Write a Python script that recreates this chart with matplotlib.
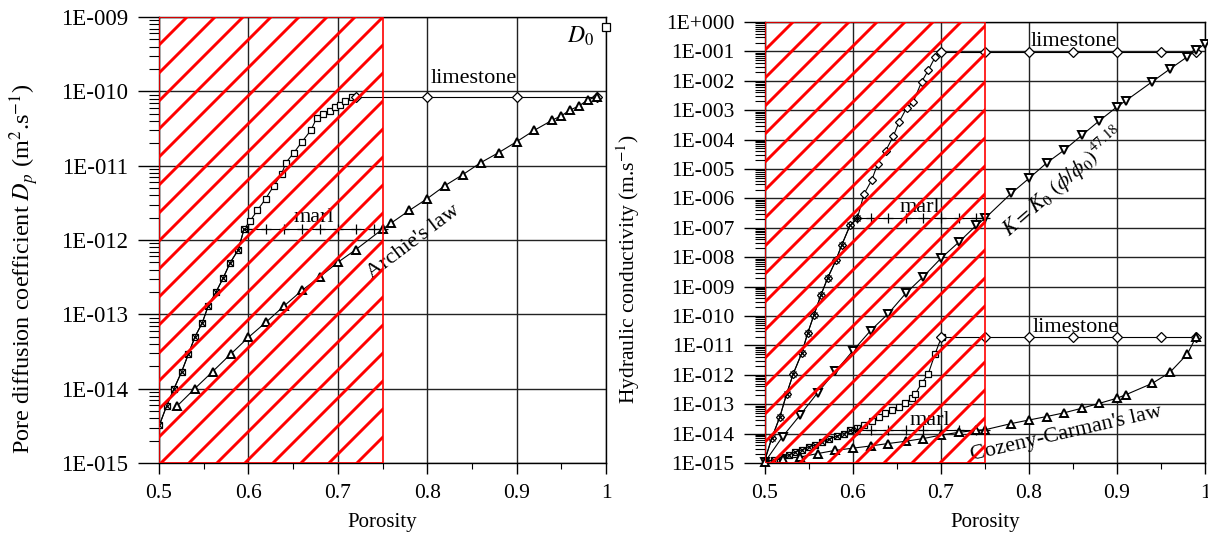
import numpy as np
import matplotlib
matplotlib.use("Agg")
import matplotlib.pyplot as plt
from matplotlib.patches import Rectangle
from matplotlib.lines import Line2D
from matplotlib.ticker import FixedLocator, LogLocator, FuncFormatter, MultipleLocator, NullFormatter

plt.rcParams['font.family'] = ['Liberation Serif', 'DejaVu Serif']
plt.rcParams['mathtext.fontset'] = 'stix'
plt.rcParams['font.size'] = 15

# ---------------- left panel: pore diffusion coefficient ----------------
ls_path_phi = [0.5003, 0.5086, 0.5168, 0.5254, 0.5328, 0.5403, 0.5484, 0.5551, 0.5638, 0.5719,
               0.5794, 0.5887, 0.5951, 0.6018, 0.61, 0.6193, 0.6286, 0.6372, 0.642, 0.651,
               0.66, 0.67, 0.6764, 0.6834, 0.6913, 0.6969, 0.7025, 0.708, 0.7156]
ls_path_dp = [3.2e-15, 5.9e-15, 1.0e-14, 1.7e-14, 2.9e-14, 5.0e-14, 7.7e-14, 1.3e-13, 2.0e-13, 3.1e-13,
              4.9e-13, 7.4e-13, 1.4e-12, 1.8e-12, 2.5e-12, 3.6e-12, 5.4e-12, 7.8e-12, 1.1e-11, 1.5e-11,
              2.1e-11, 3.0e-11, 4.4e-11, 5.0e-11, 5.5e-11, 6.1e-11, 6.6e-11, 7.3e-11, 8.5e-11]
marl_path_phi = [0.5003, 0.5086, 0.5168, 0.5254, 0.5328, 0.5403, 0.5484, 0.5551, 0.5638, 0.5719,
                 0.5794, 0.5887, 0.5951]
marl_path_dp = [3.2e-15, 5.9e-15, 1.0e-14, 1.7e-14, 2.9e-14, 5.0e-14, 7.7e-14, 1.3e-13, 2.0e-13, 3.1e-13,
                4.9e-13, 7.4e-13, 1.4e-12]
marl_phi = [0.60, 0.62, 0.64, 0.66, 0.68, 0.70, 0.72, 0.74, 0.75]
marl_dp = [1.4e-12] * 9
lime_phi = [0.72, 0.80, 0.90, 0.99]
lime_dp = [8.5e-11] * 4
archie_phi = [0.52, 0.54, 0.56, 0.58, 0.60, 0.62, 0.64, 0.66, 0.68, 0.70, 0.72, 0.75, 0.76, 0.78,
              0.80, 0.82, 0.84, 0.86, 0.88, 0.90, 0.92, 0.94, 0.95, 0.96, 0.97, 0.98, 0.99]
archie_dp = [5.8e-15, 1.0e-14, 1.7e-14, 2.9e-14, 4.9e-14, 7.9e-14, 1.3e-13, 2.1e-13, 3.2e-13, 5.0e-13,
             7.4e-13, 1.4e-12, 1.7e-12, 2.5e-12, 3.6e-12, 5.4e-12, 7.6e-12, 1.1e-11, 1.5e-11, 2.1e-11,
             3.0e-11, 4.1e-11, 4.7e-11, 5.6e-11, 6.4e-11, 7.7e-11, 8.5e-11]
d0_phi = 1.0
d0_dp = 7.3e-10

# ---------------- right panel: hydraulic conductivity ----------------
k_ls_phi = [0.5, 0.5076, 0.517, 0.5247, 0.5322, 0.5417, 0.5485, 0.5557, 0.5636, 0.5713, 0.5807, 0.5872,
            0.5966, 0.6049, 0.6125, 0.6213, 0.6281, 0.6372, 0.6458, 0.6526, 0.661, 0.6685, 0.678,
            0.6856, 0.6932, 0.6989]
k_ls_path = [1.3e-15, 6.9e-15, 3.8e-14, 2.3e-13, 1.1e-12, 5.4e-12, 2.6e-11, 1.1e-10, 5.2e-10, 2.0e-9,
             8.0e-9, 2.6e-8, 1.2e-7, 2.1e-7, 1.4e-6, 4.2e-6, 1.5e-5, 4.2e-5, 1.3e-4, 4.1e-4, 1.2e-3,
             1.9e-3, 9.3e-3, 2.3e-2, 6.3e-2, 9.8e-2]
k_marl_path_phi = [0.5, 0.5076, 0.517, 0.5247, 0.5322, 0.5417, 0.5485, 0.5557, 0.5636, 0.5713, 0.5807,
                   0.5872, 0.5966, 0.6049]
k_marl_path = [1.3e-15, 6.9e-15, 3.8e-14, 2.3e-13, 1.1e-12, 5.4e-12, 2.6e-11, 1.1e-10, 5.2e-10, 2.0e-9,
               8.0e-9, 2.6e-8, 1.2e-7, 2.1e-7]
k_marl_phi = [0.6049, 0.62, 0.64, 0.66, 0.68, 0.70, 0.72, 0.74, 0.75]
k_marl = [2.1e-7] * 9
k_lime_phi = [0.70, 0.75, 0.80, 0.85, 0.90, 0.95, 0.99]
k_lime = [9.8e-2] * 7
k_law_phi = [0.50, 0.52, 0.54, 0.56, 0.58, 0.60, 0.62, 0.64, 0.66, 0.68, 0.70, 0.72, 0.74, 0.75, 0.78,
             0.80, 0.82, 0.84, 0.86, 0.88, 0.90, 0.91, 0.94, 0.96, 0.98, 0.99, 1.00]
k_law = [1.1e-15, 7.9e-15, 4.3e-14, 2.5e-13, 1.3e-12, 6.6e-12, 3.2e-11, 1.2e-10, 5.9e-10, 2.2e-9,
         9.2e-9, 3.2e-8, 1.2e-7, 2.1e-7, 1.5e-6, 4.8e-6, 1.6e-5, 4.4e-5, 1.4e-4, 4.4e-4, 1.3e-3,
         2.1e-3, 9.3e-3, 2.5e-2, 6.6e-2, 1.1e-1, 1.8e-1]

cc_ls_phi = [0.5, 0.5106, 0.5193, 0.5269, 0.5345, 0.542, 0.5497, 0.5572, 0.5648, 0.5724, 0.5818,
             0.5894, 0.5969, 0.6045, 0.6122, 0.6216, 0.6292, 0.6367, 0.6443, 0.6519, 0.6594, 0.667,
             0.671, 0.678, 0.6856, 0.6932, 0.7008]
cc_ls_path = [1.1e-15, 1.3e-15, 1.6e-15, 1.9e-15, 2.4e-15, 2.8e-15, 3.6e-15, 4.1e-15, 5.3e-15, 6.4e-15,
              8.3e-15, 1.0e-14, 1.3e-14, 1.5e-14, 2.0e-14, 2.7e-14, 3.6e-14, 4.9e-14, 6.4e-14, 8.2e-14,
              1.1e-13, 1.6e-13, 2.3e-13, 5.1e-13, 1.1e-12, 5.1e-12, 2.0e-11]
cc_marl_path_phi = [0.5, 0.5106, 0.5193, 0.5269, 0.5345, 0.542, 0.5497, 0.5572, 0.5648, 0.5724, 0.5818,
                    0.5894, 0.5969, 0.6045]
cc_marl_path = [1.1e-15, 1.3e-15, 1.6e-15, 1.9e-15, 2.4e-15, 2.8e-15, 3.6e-15, 4.1e-15, 5.3e-15, 6.4e-15,
                8.3e-15, 1.0e-14, 1.3e-14, 1.3e-14]
cc_marl_phi = [0.6045, 0.62, 0.64, 0.66, 0.68, 0.70, 0.72, 0.74, 0.75]
cc_marl = [1.3e-14] * 9
cc_lime_phi = [0.70, 0.75, 0.80, 0.85, 0.90, 0.95, 0.99]
cc_lime = [2.0e-11] * 7
cc_law_phi = [0.50, 0.52, 0.54, 0.56, 0.58, 0.60, 0.62, 0.64, 0.66, 0.68, 0.70, 0.72, 0.74, 0.75, 0.78,
              0.80, 0.82, 0.84, 0.86, 0.88, 0.90, 0.91, 0.94, 0.96, 0.98, 0.99]
cc_law = [1.1e-15, 1.4e-15, 1.6e-15, 2.1e-15, 2.7e-15, 3.2e-15, 3.8e-15, 4.6e-15, 5.5e-15, 6.8e-15,
          8.9e-15, 1.1e-14, 1.3e-14, 1.35e-14, 2.2e-14, 2.9e-14, 3.8e-14, 5.1e-14, 7.3e-14, 1.07e-13,
          1.6e-13, 2.1e-13, 5.1e-13, 1.2e-12, 5.1e-12, 2.0e-11]

x_ticks = [0.5, 0.6, 0.7, 0.8, 0.9, 1.0]
hatch_from, hatch_to = 0.5, 0.75

fig = plt.figure(figsize=(12.08, 5.36), dpi=100)
ax1 = fig.add_axes([159 / 1208, 73 / 536, 447 / 1208, 446 / 536])
ax2 = fig.add_axes([765 / 1208, 73 / 536, 440 / 1208, 441 / 536])

line_kw = dict(color='black', lw=0.8, mfc='white', mec='black', mew=0.9, zorder=3)
tri_kw = dict(color='black', lw=0.8, mfc='white', mec='black', mew=1.4, zorder=3)


def exp_label(v, pos):
    e = int(round(np.log10(v)))
    return "1E%+04d" % e


def style_axes(ax, lo, hi, fs):
    ax.set_yscale('log')
    ax.set_xlim(0.5, 1.0)
    ax.set_ylim(10.0 ** lo, 10.0 ** hi)
    ax.yaxis.set_major_locator(FixedLocator([10.0 ** e for e in range(lo, hi + 1)]))
    ax.yaxis.set_major_formatter(FuncFormatter(exp_label))
    ax.yaxis.set_minor_locator(LogLocator(base=10, subs=np.arange(2, 10), numticks=200))
    ax.yaxis.set_minor_formatter(NullFormatter())
    ax.xaxis.set_major_locator(FixedLocator(x_ticks))
    ax.xaxis.set_minor_locator(MultipleLocator(0.05))
    ax.xaxis.set_major_formatter(FuncFormatter(lambda v, p: "%g" % v))
    ax.tick_params(axis='y', which='major', length=15, width=1, pad=7, labelsize=fs)
    ax.tick_params(axis='y', which='minor', length=7, width=0.8)
    ax.tick_params(axis='x', which='major', length=8, width=1, pad=7, labelsize=15.5)
    ax.tick_params(axis='x', which='minor', length=4.5, width=0.8)
    ax.grid(True, which='major', color='#222222', lw=1.0, zorder=1)
    ax.set_axisbelow(True)
    for s in ax.spines.values():
        s.set_linewidth(1.0)
    ax.set_xlabel('Porosity', fontsize=15, labelpad=7)


def hatch_region(ax):
    lo, hi = ax.get_ylim()
    rect = Rectangle((hatch_from, lo), hatch_to - hatch_from, hi - lo, fill=False,
                     edgecolor='red', lw=1.2, zorder=6)
    ax.add_patch(rect)
    w, h = ax.bbox.width, ax.bbox.height
    step = 28 * fig.dpi / 100
    for c in np.arange(-h, w, step):
        ln = Line2D([c / w, (c + h) / w], [0, 1], transform=ax.transAxes,
                    color='red', lw=2.1, zorder=5)
        ax.add_line(ln)
        ln.set_clip_path(rect)


# left panel
style_axes(ax1, -15, -9, 16.5)
ax1.plot(ls_path_phi, ls_path_dp, marker='s', ms=4.5, **line_kw)
ax1.plot(marl_path_phi, marl_path_dp, marker='x', ms=5, **line_kw)
ax1.plot(marl_phi, marl_dp, marker='+', ms=7, **line_kw)
ax1.plot(lime_phi, lime_dp, marker='D', ms=5, clip_on=False, **line_kw)
ax1.plot(archie_phi, archie_dp, marker='^', ms=5.5, clip_on=False, **tri_kw)
ax1.plot([d0_phi], [d0_dp], marker='s', ms=6, ls='none', clip_on=False, **line_kw)
hatch_region(ax1)
ax1.text(0.852, 1.5e-10, 'limestone', ha='center', va='center', fontsize=16)
ax1.text(0.673, 2.0e-12, 'marl', ha='center', va='center', fontsize=16)
ax1.text(0.785, 9.5e-13, "Archie's law", ha='center', va='center', fontsize=16,
         rotation=37, rotation_mode='anchor')
ax1.text(0.971, 5.5e-10, r'$D_{\mathit{0}}$', ha='center', va='center', fontsize=17)
ax1.set_ylabel('Pore diffusion coefficient $D_p$ (m$^2$.s$^{-1}$)', fontsize=17.5)
ax1.yaxis.set_label_coords(-0.265, 0.435)

# right panel
style_axes(ax2, -15, 0, 15.5)
ax2.plot(k_ls_phi, k_ls_path, marker='D', ms=4.5, **line_kw)
ax2.plot(k_marl_path_phi, k_marl_path, marker='x', ms=5, **line_kw)
ax2.plot(k_marl_phi, k_marl, marker='+', ms=7, **line_kw)
ax2.plot(k_lime_phi, k_lime, marker='D', ms=5, clip_on=False, **line_kw)
ax2.plot(k_law_phi, k_law, marker='v', ms=6, clip_on=False, **tri_kw)
ax2.plot(cc_ls_phi, cc_ls_path, marker='s', ms=4.5, **line_kw)
ax2.plot(cc_marl_path_phi, cc_marl_path, marker='x', ms=5, **line_kw)
ax2.plot(cc_marl_phi, cc_marl, marker='+', ms=7, **line_kw)
ax2.plot(cc_lime_phi, cc_lime, marker='D', ms=5, clip_on=False, **line_kw)
ax2.plot(cc_law_phi, cc_law, marker='^', ms=5.5, clip_on=False, **tri_kw)
hatch_region(ax2)
ax2.text(0.851, 2.1e-1, 'limestone', ha='center', va='center', fontsize=16)
ax2.text(0.853, 4.2e-11, 'limestone', ha='center', va='center', fontsize=16)
ax2.text(0.676, 5.0e-7, 'marl', ha='center', va='center', fontsize=16)
ax2.text(0.6875, 2.9e-14, 'marl', ha='center', va='center', fontsize=16)
ax2.text(0.839, 3.6e-6, r'$K = K_0\ (\phi/\phi_0)^{47.18}$', ha='center', va='center',
         fontsize=15.5, rotation=41, rotation_mode='anchor')
ax2.text(0.843, 9.7e-15, "Cozeny-Carman's law", ha='center', va='center', fontsize=16,
         rotation=13, rotation_mode='anchor')
ax2.set_ylabel('Hydraulic conductivity (m.s$^{-1}$)', fontsize=15.5)
ax2.yaxis.set_label_coords(-0.28, 0.44)

fig.savefig('out.png', dpi=100)
